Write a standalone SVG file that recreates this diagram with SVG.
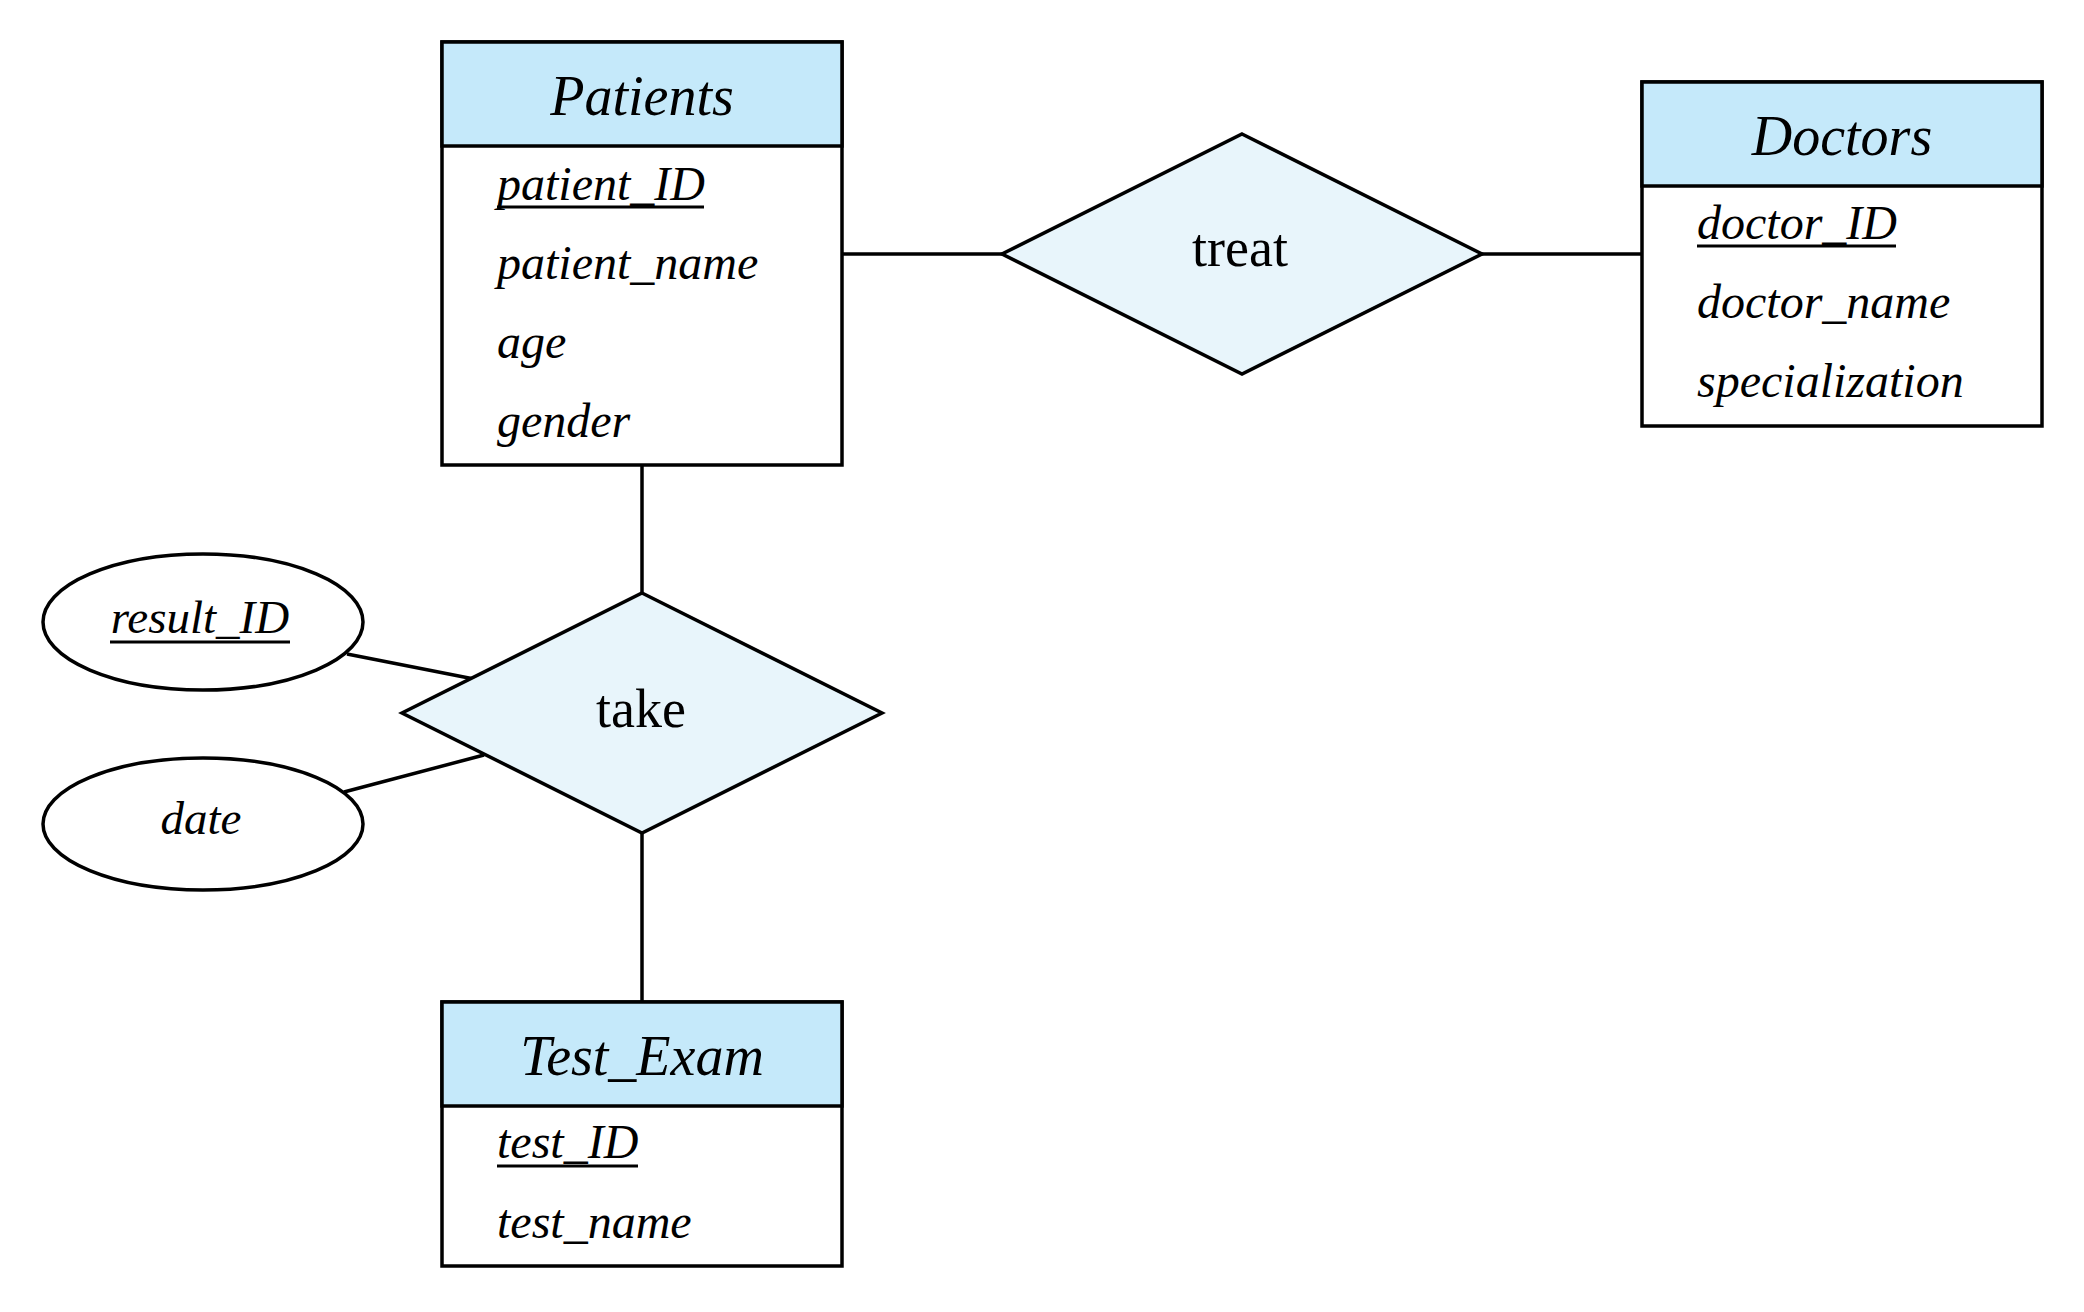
<svg xmlns="http://www.w3.org/2000/svg" width="2084" height="1312" viewBox="0 0 2084 1312">
<style>
.box{fill:#ffffff;stroke:#000;stroke-width:3.5}
.hdr{fill:#c5e9fa;stroke:#000;stroke-width:3.5}
.rel{fill:#e8f5fb;stroke:#000;stroke-width:3.5}
.att{fill:#ffffff;stroke:#000;stroke-width:3.5}
.ln{stroke:#000;stroke-width:3.5;fill:none}
.ul{stroke:#000;stroke-width:3}
.title{font-family:"Liberation Serif","Times New Roman",serif;font-style:italic;font-size:56px;text-anchor:middle;fill:#000}
.attr{font-family:"Liberation Serif","Times New Roman",serif;font-style:italic;font-size:48px;fill:#000}
.rtx{font-family:"Liberation Serif","Times New Roman",serif;font-size:54px;text-anchor:middle;fill:#000}
.etx{font-family:"Liberation Serif","Times New Roman",serif;font-style:italic;font-size:47px;text-anchor:middle;fill:#000}
</style>
<rect width="2084" height="1312" fill="#ffffff"/>
<g id="connectors">
<line class="ln" x1="842" y1="254" x2="1002" y2="254"/>
<line class="ln" x1="1482" y1="254" x2="1642" y2="254"/>
<line class="ln" x1="642" y1="465" x2="642" y2="593"/>
<line class="ln" x1="642" y1="833" x2="642" y2="1002"/>
<line class="ln" x1="347" y1="654" x2="474" y2="679"/>
<line class="ln" x1="344" y1="792" x2="484" y2="755"/>
</g>
<g id="Patients">
<rect class="box" x="442" y="42" width="400" height="423"/>
<rect class="hdr" x="442" y="42" width="400" height="104"/>
<text class="title" x="642" y="115">Patients</text>
<text class="attr" x="497" y="200">patient_ID</text>
<line class="ul" x1="497" y1="207" x2="704" y2="207"/>
<text class="attr" x="497" y="279">patient_name</text>
<text class="attr" x="497" y="358">age</text>
<text class="attr" x="497" y="437">gender</text>
</g>
<g id="Doctors">
<rect class="box" x="1642" y="82" width="400" height="344"/>
<rect class="hdr" x="1642" y="82" width="400" height="104"/>
<text class="title" x="1842" y="155">Doctors</text>
<text class="attr" x="1697" y="239">doctor_ID</text>
<line class="ul" x1="1697" y1="246" x2="1896" y2="246"/>
<text class="attr" x="1697" y="318">doctor_name</text>
<text class="attr" x="1697" y="397">specialization</text>
</g>
<g id="Test_Exam">
<rect class="box" x="442" y="1002" width="400" height="264"/>
<rect class="hdr" x="442" y="1002" width="400" height="104"/>
<text class="title" x="642" y="1075">Test_Exam</text>
<text class="attr" x="497" y="1158">test_ID</text>
<line class="ul" x1="497" y1="1166" x2="638" y2="1166"/>
<text class="attr" x="497" y="1238">test_name</text>
</g>
<g id="treat">
<polygon class="rel" points="1242,134 1482,254 1242,374 1002,254"/>
<text class="rtx" x="1240" y="266">treat</text>
</g>
<g id="take">
<polygon class="rel" points="642,593 882,713 642,833 402,713"/>
<text class="rtx" x="641" y="727">take</text>
</g>
<g id="result_ID">
<ellipse class="att" cx="203" cy="622" rx="160" ry="68"/>
<text class="etx" x="200" y="633">result_ID</text>
<line class="ul" x1="110" y1="642" x2="290" y2="642"/>
</g>
<g id="date">
<ellipse class="att" cx="203" cy="824" rx="160" ry="66"/>
<text class="etx" x="201" y="834">date</text>
</g>
</svg>
